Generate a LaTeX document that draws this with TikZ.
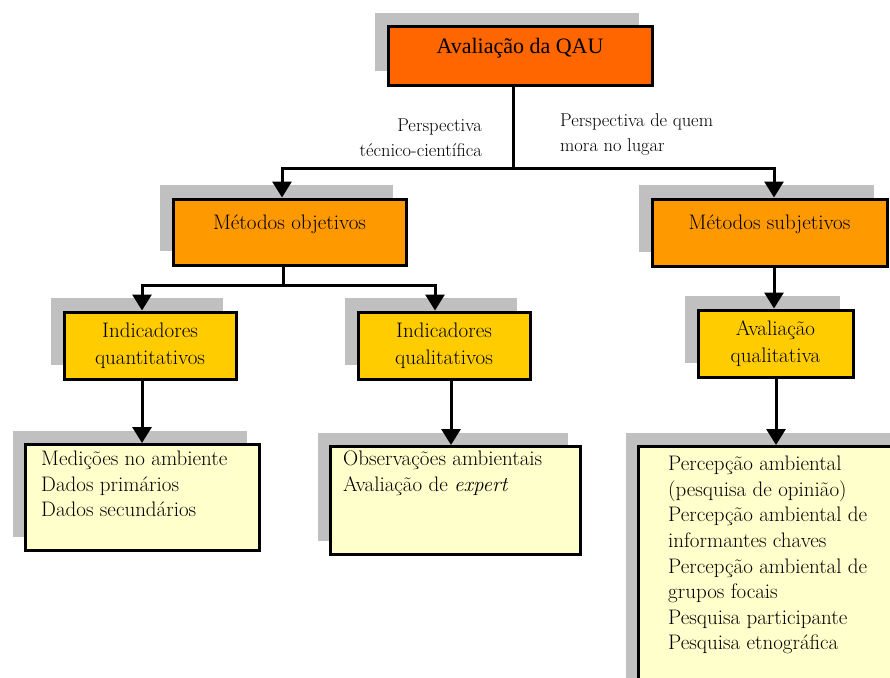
\documentclass[tikz,border=0pt]{standalone}
\usepackage{fontspec}
\newfontfamily\timesfont{Liberation Serif}
\usetikzlibrary{shadows,arrows.meta}

\definecolor{qauorange}{HTML}{FF6600}
\definecolor{metorange}{HTML}{FF9900}
\definecolor{indyellow}{HTML}{FFCC00}
\definecolor{leafyellow}{HTML}{FFFFCC}
\definecolor{shadowgray}{HTML}{C0C0C0}

\begin{document}
\begin{tikzpicture}[x=1pt, y=-1pt,
    box/.style={draw, line width=3pt, align=center,
      font=\fontsize{21}{27}\selectfont,
      drop shadow={shadow xshift=-13pt, shadow yshift=14pt, fill=shadowgray, opacity=1}},
    oneline/.style={text height=14pt, text depth=20pt},
    leaf/.style={box, fill=leafyellow, anchor=north west},
    leaftext/.style={align=left, anchor=north west, inner sep=0pt,
      font=\fontsize{21}{25.6}\selectfont},
    persp/.style={inner sep=0pt, font=\fontsize{18.5}{25}\selectfont},
    conn/.style={line width=3pt},
    arr/.style={conn, -{Triangle[width=19pt,length=16pt]}}]

    \useasboundingbox (0,0) rectangle (890,677);

    % Top box
    \node[box, oneline, fill=qauorange, minimum width=264, minimum height=58,
      font=\timesfont\fontsize{22}{26}\selectfont] (qau) at (520,56) {Avaliação da QAU};

    % Methods
    \node[box, oneline, fill=metorange, minimum width=233, minimum height=66] (obj) at (289.5,232) {Métodos objetivos};
    \node[box, oneline, fill=metorange, minimum width=235, minimum height=67] (subj) at (769.5,232.5) {Métodos subjetivos};

    % Indicators
    \node[box, fill=indyellow, minimum width=172, minimum height=67] (quant) at (150,345.5) {Indicadores\\quantitativos};
    \node[box, fill=indyellow, minimum width=172, minimum height=67] (qual) at (444,345.5) {Indicadores\\qualitativos};
    \node[box, fill=indyellow, minimum width=155, minimum height=67] (avq) at (775.5,343.5) {Avaliação\\qualitativa};

    % Leaf boxes
    \node[leaf, minimum width=234, minimum height=106] (med) at (24,443) {};
    \node[leaftext] (medtxt) at ([shift={(17,8)}]med.north west)
      {Medições no ambiente\\Dados primários\\Dados secundários};
    \node[leaf, minimum width=250, minimum height=108] (obs) at (329,445) {};
    \node[leaftext] (obstxt) at ([shift={(14,6)}]obs.north west)
      {Observações ambientais\\Avaliação de \emph{expert}};
    \node[leaf, minimum width=270, minimum height=260] (perc) at (637,445) {};
    \node[leaftext] (perctxt) at ([shift={(31,11)}]perc.north west)
      {Percepção ambiental\\(pesquisa de opinião)\\Percepção ambiental de\\informantes chaves\\
       Percepção ambiental de\\grupos focais\\Pesquisa participante\\Pesquisa etnográfica};

    % Perspective labels
    \node[persp, align=right, anchor=east] (tecn) at (482,138) {Perspectiva\\técnico-científica};
    \node[persp, align=left, anchor=west] (mora) at (560,134.5) {Perspectiva de quem\\mora no lugar};

    % Connectors
    \coordinate (bar1) at (513,168);
    \draw[conn] (qau.south -| bar1) -- (bar1);
    \draw[arr] (bar1) -| (obj.north -| 282,0);
    \draw[arr] (bar1) -| (subj.north -| 774,0);

    \coordinate (bar2) at (283,285);
    \draw[conn] (obj.south -| bar2) -- (bar2);
    \draw[arr] (bar2) -| (quant.north -| 142,0);
    \draw[arr] (bar2) -| (qual.north -| 435,0);

    \draw[arr] (quant.south -| 142,0) -- (med.north -| 142,0);
    \draw[arr] (qual.south -| 451,0) -- (obs.north -| 451,0);
    \draw[arr] (subj.south -| 774,0) -- (avq.north -| 774,0);
    \draw[arr] (avq.south -| 776,0) -- (perc.north -| 776,0);
\end{tikzpicture}
\end{document}
